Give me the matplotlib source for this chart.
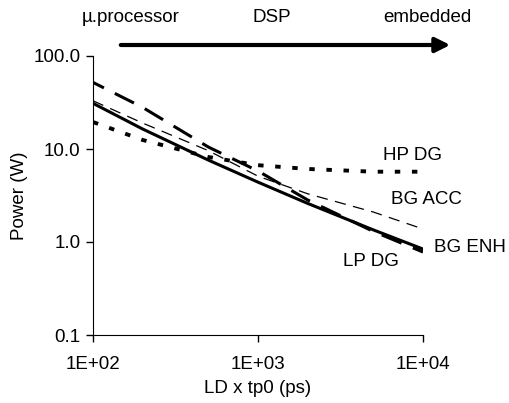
import matplotlib
matplotlib.use("Agg")
import matplotlib.pyplot as plt
from matplotlib.ticker import FixedLocator, FixedFormatter, NullLocator

plt.rcParams['font.family'] = ['Liberation Sans', 'DejaVu Sans']

# LD x tp0 (ps)
ld_tp0 = [100, 200, 500, 1000, 2000, 5000, 10000]

# Power (W) for each technology
lp_dg = [31, 16.4, 7.6, 4.4, 2.6, 1.35, 0.84]      # solid
bg_enh = [52, 28, 10.5, 5.8, 2.83, 1.3, 0.78]      # heavy long dash
bg_acc = [33, 19, 9.6, 5.1, 3.3, 2.1, 1.38]        # thin dash
hp_dg = [19.5, 12.5, 8.2, 6.7, 6.1, 5.7, 5.7]      # dotted

y_ticks = [0.1, 1, 10, 100]
y_labels = ["0.1", "1.0", "10.0", "100.0"]
x_ticks = [100, 1000, 10000]
x_labels = ["1E+02", "1E+03", "1E+04"]

W, H = 510, 403
fs = 13.5

fig = plt.figure(figsize=(W / 100, H / 100), dpi=100)
ax = fig.add_axes([93 / W, 1 - 335 / H, 330 / W, 279 / H])

ax.plot(ld_tp0, lp_dg, color='black', lw=2.2, ls='-')
ax.plot(ld_tp0, bg_enh, color='black', lw=2.2, ls=(3, (7, 4)))
ax.plot(ld_tp0, bg_acc, color='black', lw=0.9, ls=(0, (9, 6)))
ax.plot(ld_tp0, hp_dg, color='black', lw=2.8, ls=(0, (1.4, 3.0)))

ax.set_xscale('log')
ax.set_yscale('log')
ax.set_xlim(100, 10000)
ax.set_ylim(0.1, 100)

ax.xaxis.set_major_locator(FixedLocator(x_ticks))
ax.xaxis.set_major_formatter(FixedFormatter(x_labels))
ax.xaxis.set_minor_locator(NullLocator())
ax.yaxis.set_major_locator(FixedLocator(y_ticks))
ax.yaxis.set_major_formatter(FixedFormatter(y_labels))
ax.yaxis.set_minor_locator(NullLocator())

for side in ['top', 'right']:
    ax.spines[side].set_visible(False)
ax.tick_params(direction='out', length=5, width=1, labelsize=fs)
ax.tick_params(axis='x', pad=10)
ax.tick_params(axis='y', pad=4)

ax.set_xlabel("LD x tp0 (ps)", fontsize=fs, labelpad=5)
ax.set_ylabel("Power (W)", fontsize=fs, labelpad=4)

# series labels (pixel positions from the original figure)
fig.text(383 / W, 1 - 155 / H, "HP DG", fontsize=fs, ha='left', va='center')
fig.text(391 / W, 1 - 200 / H, "BG ACC", fontsize=fs, ha='left', va='center')
fig.text(434 / W, 1 - 248 / H, "BG ENH", fontsize=fs, ha='left', va='center')
fig.text(343 / W, 1 - 261 / H, "LP DG", fontsize=fs, ha='left', va='center')

# application range arrow on top
fig.text(82 / W, 1 - 18 / H, "\u00b5.processor", fontsize=fs, ha='left', va='center')
fig.text(272 / W, 1 - 18 / H, "DSP", fontsize=fs, ha='center', va='center')
fig.text(427 / W, 1 - 18 / H, "embedded", fontsize=fs, ha='center', va='center')
ax.annotate('', xy=(453 / W, 1 - 45 / H), xytext=(118 / W, 1 - 45 / H),
            xycoords='figure fraction', textcoords='figure fraction',
            arrowprops=dict(arrowstyle='-|>', color='black', lw=3, mutation_scale=22),
            annotation_clip=False)

fig.savefig("out.png", dpi=100)
